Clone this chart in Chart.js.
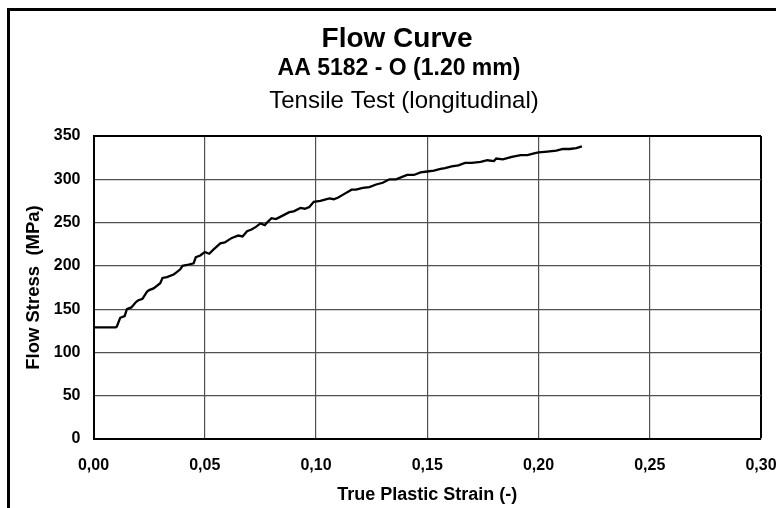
<!DOCTYPE html>
<html>
<head>
<meta charset="utf-8">
<script src="https://cdn.jsdelivr.net/npm/chart.js@4.4.1/dist/chart.umd.min.js"></script>
<style>
  html, body { margin: 0; padding: 0; background: #fff; }
  #wrap { position: relative; width: 776px; height: 508px; overflow: hidden; }
  #frame { position: absolute; left: 7px; top: 8px; width: 900px; height: 700px;
           border-left: 3px solid #000; border-top: 3px solid #000; }
  #flowChart { position: absolute; left: 0; top: 0; }
</style>
</head>
<body>
<div id="wrap">
  <div id="frame"></div>
  <canvas id="flowChart" width="776" height="508"></canvas>
</div>
<script>
// Dữ liệu
const strain = [0, 0.010, 0.0105, 0.012, 0.014, 0.015, 0.017, 0.019, 0.020, 0.022,
  0.024, 0.025, 0.027, 0.030, 0.031, 0.033, 0.036, 0.037, 0.039, 0.040,
  0.042, 0.045, 0.046, 0.048, 0.050, 0.052, 0.054, 0.057, 0.059, 0.062,
  0.063, 0.065, 0.067, 0.069, 0.071, 0.073, 0.075, 0.077, 0.078, 0.080,
  0.082, 0.085, 0.088, 0.090, 0.093, 0.095, 0.097, 0.099, 0.102, 0.106,
  0.108, 0.110, 0.112, 0.116, 0.118, 0.121, 0.124, 0.127, 0.130, 0.133,
  0.136, 0.139, 0.141, 0.144, 0.147, 0.150, 0.153, 0.156, 0.158, 0.161,
  0.164, 0.167, 0.170, 0.174, 0.177, 0.180, 0.181, 0.184, 0.188, 0.192,
  0.195, 0.198, 0.200, 0.204, 0.208, 0.211, 0.214, 0.217, 0.2195];
const stress = [129, 129, 130, 140, 142, 150, 152, 158, 160, 162,
  170, 172, 174, 180, 186, 187, 190, 192, 196, 200,
  201, 203, 210, 212, 216, 214, 219, 226, 227, 232,
  233, 235, 234, 240, 242, 245, 249, 247, 250, 255,
  254, 258, 262, 263, 267, 266, 268, 274, 275, 278,
  277, 279, 282, 288, 288, 290, 291, 294, 296, 300,
  300, 303, 305, 305, 308, 309, 310, 312, 313, 315,
  316, 319, 319, 320, 322, 321, 324, 323, 326, 328,
  328, 330, 331, 332, 333, 335, 335, 336, 338];
const xTicks = [0, 0.05, 0.10, 0.15, 0.20, 0.25, 0.30];
const yTicks = [0, 50, 100, 150, 200, 250, 300, 350];
const titleLines = ['Flow Curve', 'AA 5182 - O (1.20 mm)', 'Tensile Test (longitudinal)'];

const FONT = '"Liberation Sans", Arial, sans-serif';

// Tiêu đề 3 dòng
const titlePlugin = {
  id: 'titleLines',
  afterDraw(chart) {
    const c = chart.ctx;
    c.save();
    c.fillStyle = '#000';
    c.textAlign = 'center';
    c.textBaseline = 'alphabetic';
    c.font = 'bold 28px ' + FONT;
    c.fillText(titleLines[0], 397, 47);
    c.font = 'bold 23px ' + FONT;
    c.fillText(titleLines[1], 399, 75);
    c.font = '24px ' + FONT;
    c.fillText(titleLines[2], 404, 108);
    c.restore();
  }
};

const edgeColor = (max) => (ctx) => (ctx.tick && ctx.tick.value === max ? '#000' : '#505050');
const edgeWidth = (max) => (ctx) => (ctx.tick && ctx.tick.value === max ? 2 : 1.2);

new Chart(document.getElementById('flowChart').getContext('2d'), {
  type: 'scatter',
  data: {
    datasets: [{
      data: strain.map((s, i) => ({ x: s, y: stress[i] })),
      showLine: true,
      borderColor: '#000',
      borderWidth: 2.3,
      pointRadius: 0,
      tension: 0
    }]
  },
  options: {
    responsive: false,
    animation: false,
    layout: { padding: { left: 0, right: 15, top: 136, bottom: 0 } },
    plugins: { legend: { display: false }, tooltip: { enabled: false } },
    scales: {
      x: {
        type: 'linear',
        min: 0, max: 0.30,
        afterBuildTicks: (s) => { s.ticks = xTicks.map(v => ({ value: v })); },
        afterFit: (s) => { s.height = 69; s.paddingLeft = 0; s.paddingRight = 0; },
        grid: { color: edgeColor(0.30), lineWidth: edgeWidth(0.30), drawTicks: false },
        border: { color: '#000', width: 2 },
        ticks: {
          color: '#000', padding: 17,
          font: { family: FONT, size: 16, weight: 'bold' },
          callback: (v) => v.toFixed(2).replace('.', ',')
        },
        title: {
          display: true, text: 'True Plastic Strain (-)', color: '#000',
          font: { family: FONT, size: 18, weight: 'bold' },
          padding: { top: 0, bottom: 2 }
        }
      },
      y: {
        min: 0, max: 350,
        afterBuildTicks: (s) => { s.ticks = yTicks.map(v => ({ value: v })); },
        afterFit: (s) => { s.width = 93.5; },
        grid: { color: edgeColor(350), lineWidth: edgeWidth(350), drawTicks: false },
        border: { color: '#000', width: 2 },
        ticks: {
          color: '#000', padding: 13,
          font: { family: FONT, size: 16, weight: 'bold' }
        },
        title: {
          display: true, text: 'Flow Stress  (MPa)', color: '#000',
          font: { family: FONT, size: 18.5, weight: 'bold' },
          padding: { top: 23, bottom: 0 }
        }
      }
    }
  },
  plugins: [titlePlugin]
});
</script>
</body>
</html>
